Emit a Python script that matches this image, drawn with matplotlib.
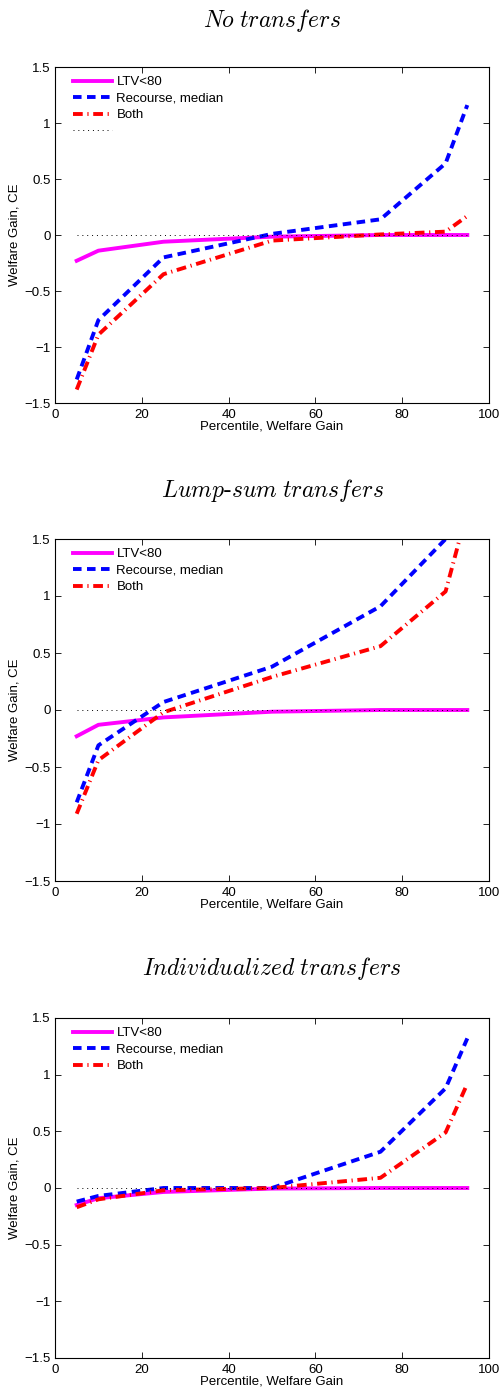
import matplotlib.pyplot as plt

plt.rcParams['font.family'] = ['Liberation Sans', 'DejaVu Sans']
plt.rcParams['mathtext.fontset'] = 'cm'

# percentiles
pct = [5, 10, 25, 50, 75, 90, 95]

titles = ["No\\;transfers", "Lump\\text{-}sum\\;transfers", "Individualized\\;transfers"]

ltv_no = [-0.23, -0.14, -0.06, -0.015, 0.0, 0.0, 0.0]
rec_no = [-1.29, -0.76, -0.20, 0.01, 0.14, 0.64, 1.16]
both_no = [-1.38, -0.89, -0.35, -0.05, 0.005, 0.03, 0.17]

ltv_lump = [-0.23, -0.13, -0.065, -0.015, 0.0, 0.0, 0.0]
rec_lump = [-0.81, -0.31, 0.07, 0.38, 0.91, 1.50, 1.95]
both_lump = [-0.91, -0.44, -0.02, 0.29, 0.56, 1.04, 1.75]

ltv_ind = [-0.15, -0.09, -0.035, -0.005, 0.0, 0.0, 0.0]
rec_ind = [-0.12, -0.07, 0.0, 0.0, 0.32, 0.88, 1.32]
both_ind = [-0.17, -0.10, -0.02, 0.0, 0.09, 0.49, 0.92]

panels = [(ltv_no, rec_no, both_no), (ltv_lump, rec_lump, both_lump), (ltv_ind, rec_ind, both_ind)]

W, H = 501, 1395
fig = plt.figure(figsize=(W / 100, H / 100), dpi=100)

# axes boxes in pixels: top, bottom
boxes = [(67, 403), (539, 881), (1018, 1358)]
title_y = [20, 490, 968]
left, right = 55, 489

for i in range(3):
    top, bot = boxes[i]
    ax = fig.add_axes([left / W, 1 - bot / H, (right - left) / W, (bot - top) / H])
    ltv, rec, both = panels[i]

    ax.plot(pct, ltv, color='#ff00ff', lw=2.8, label='LTV<80')
    ax.plot(pct, rec, color='#0000ff', lw=2.8, ls=(0, (2.2, 1.4)), label='Recourse, median')
    ax.plot(pct, both, color='#ff0000', lw=2.8, ls=(0, (2.5, 1.2, 0.3, 1.2)), label='Both')
    if i == 0:
        ax.plot([5, 95], [0, 0], color='black', lw=0.7, ls=(0, (1, 4)), label=' ')
    else:
        ax.plot([5, 95], [0, 0], color='black', lw=0.7, ls=(0, (1, 4)))

    ax.set_xlim(0, 100)
    ax.set_ylim(-1.5, 1.5)
    ax.set_xticks([0, 20, 40, 60, 80, 100])
    ax.set_yticks([-1.5, -1, -0.5, 0, 0.5, 1, 1.5])
    ax.set_yticklabels(['\u22121.5', '\u22121', '\u22120.5', '0', '0.5', '1', '1.5'])
    ax.tick_params(direction='in', top=True, right=True, labelsize=9.5, length=4, width=0.6, pad=3)
    ax.tick_params(axis='x', pad=4)
    for s in ax.spines.values():
        s.set_linewidth(0.8)
    ax.set_xlabel('Percentile, Welfare Gain', fontsize=9.5, labelpad=0)
    ax.set_ylabel('Welfare Gain, CE', fontsize=9.5, labelpad=3)
    ax.legend(loc='upper left', frameon=False, fontsize=9.5, handlelength=3.0,
              handletextpad=0.3, labelspacing=0.32, borderaxespad=0.3,
              bbox_to_anchor=(0.02, 1.0))

    fig.text(0.5 * (left + right) / W, 1 - title_y[i] / H,
             '$\\mathit{' + titles[i] + '}$', ha='center', va='center', fontsize=17)

fig.savefig('out.png', dpi=100)
